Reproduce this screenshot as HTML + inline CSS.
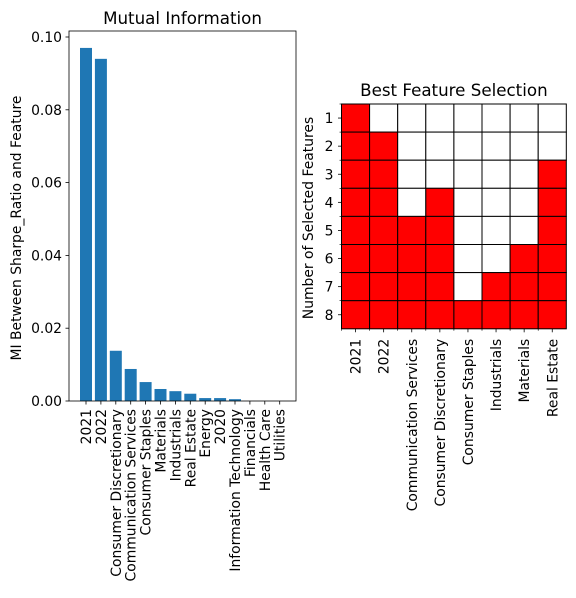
<!DOCTYPE html>
<html><head><meta charset="utf-8"><style>
body{margin:0;background:#fff;font-family:"Liberation Sans","DejaVu Sans",sans-serif}
svg text{font-family:"DejaVu Sans","Liberation Sans",sans-serif;fill:#000}
</style></head><body>
<svg id="c" width="576" height="593" xmlns="http://www.w3.org/2000/svg"></svg>
<script>
const miCategories=["2021","2022","Consumer Discretionary","Communication Services","Consumer Staples","Materials","Industrials","Real Estate","Energy","2020","Information Technology","Financials","Health Care","Utilities"];
const miValues=[0.097,0.094,0.0138,0.0088,0.0052,0.0033,0.0027,0.002,0.0008,0.0008,0.0005,0,0,0];
const miTicks=[0,0.02,0.04,0.06,0.08,0.10];
const miTickLabels=["0.00","0.02","0.04","0.06","0.08","0.10"];
const selFeatures=["2021","2022","Communication Services","Consumer Discretionary","Consumer Staples","Industrials","Materials","Real Estate"];
const selRows=["1","2","3","4","5","6","7","8"];
// order in which features get added (index into selFeatures) per row count
const selOrder=[0,1,7,3,2,6,5,4];

const FS=13.9, TS=16.7, AS=13.9;
const svg=document.getElementById('c');
const NS='http://www.w3.org/2000/svg';
function mk(tag,attrs,parent){const e=document.createElementNS(NS,tag);for(const k in attrs)e.setAttribute(k,attrs[k]);(parent||svg).appendChild(e);return e;}

// LEFT chart
const L={x0:69,x1:296,y0:31,y1:401};
const yS=v=>L.y1-v/0.1*(L.y1-37);
const xS=i=>86+i*14.9;
const gL=mk('g',{});


miValues.forEach((v,i)=>{
  const r=mk('rect',{x:xS(i)-6,y:yS(v),width:12,height:L.y1-yS(v),fill:'#1f77b4'},gL);
  
  
  mk('line',{x1:xS(i),x2:xS(i),y1:L.y1,y2:L.y1+3.5,stroke:'#000','stroke-width':0.8},gL);
  const t=mk('text',{x:0,y:0,'font-size':FS,'text-anchor':'end',transform:`translate(${xS(i)+5},${L.y1+8}) rotate(-90)`},gL);
  t.textContent=miCategories[i];
  
  
});
miTicks.forEach((v,i)=>{
  mk('line',{x1:L.x0-3.5,x2:L.x0,y1:yS(v),y2:yS(v),stroke:'#000','stroke-width':0.8},gL);
  const t=mk('text',{x:L.x0-7,y:yS(v)+5,'font-size':FS,'text-anchor':'end'},gL);
  t.textContent=miTickLabels[i];
  
  
});
mk('rect',{x:L.x0,y:L.y0,width:L.x1-L.x0,height:L.y1-L.y0,fill:'none',stroke:'#000','stroke-width':0.8},gL);
let t=mk('text',{x:(L.x0+L.x1)/2,y:24,'font-size':TS,'text-anchor':'middle'});
t.textContent='Mutual Information';


t=mk('text',{x:0,y:0,'font-size':AS,'text-anchor':'middle',transform:`translate(21,228) rotate(-90)`});
t.textContent='MI Between Sharpe_Ratio and Feature';



// RIGHT heatmap
const R={x0:341.5,y0:104,cw:28.1,ch:28.1};
const gR=mk('g',{});


selRows.forEach((r,ri)=>{
  const chosen=selOrder.slice(0,ri+1);
  selFeatures.forEach((f,ci)=>{
    const c=mk('rect',{x:R.x0+ci*R.cw,y:R.y0+ri*R.ch,width:R.cw,height:R.ch,fill:chosen.includes(ci)?'#ff0000':'#ffffff',stroke:'#000','stroke-width':1},gR);
    
    
  });
  const y=R.y0+(ri+0.5)*R.ch;
  mk('line',{x1:R.x0-3.5,x2:R.x0,y1:y,y2:y,stroke:'#000','stroke-width':0.8},gR);
  mk('line',{x1:R.x0-2,x2:R.x0,y1:R.y0+ri*R.ch,y2:R.y0+ri*R.ch,stroke:'#000','stroke-width':0.6},gR);
  const tt=mk('text',{x:R.x0-8,y:y+5,'font-size':FS,'text-anchor':'end'},gR);
  tt.textContent=r;
  
  
});
const yb=R.y0+8*R.ch;
selFeatures.forEach((f,ci)=>{
  const x=R.x0+(ci+0.5)*R.cw;
  mk('line',{x1:x,x2:x,y1:yb,y2:yb+3.5,stroke:'#000','stroke-width':0.8},gR);
  mk('line',{x1:R.x0+ci*R.cw,x2:R.x0+ci*R.cw,y1:yb,y2:yb+2,stroke:'#000','stroke-width':0.6},gR);
  const tt=mk('text',{x:0,y:0,'font-size':FS,'text-anchor':'end',transform:`translate(${x+5},${yb+10}) rotate(-90)`},gR);
  tt.textContent=f;
  
  
});
t=mk('text',{x:R.x0+4*R.cw,y:96,'font-size':TS,'text-anchor':'middle'});
t.textContent='Best Feature Selection';


t=mk('text',{x:0,y:0,'font-size':AS,'text-anchor':'middle',transform:`translate(313,218) rotate(-90)`});
t.textContent='Number of Selected Features';


</script>
</body></html>
